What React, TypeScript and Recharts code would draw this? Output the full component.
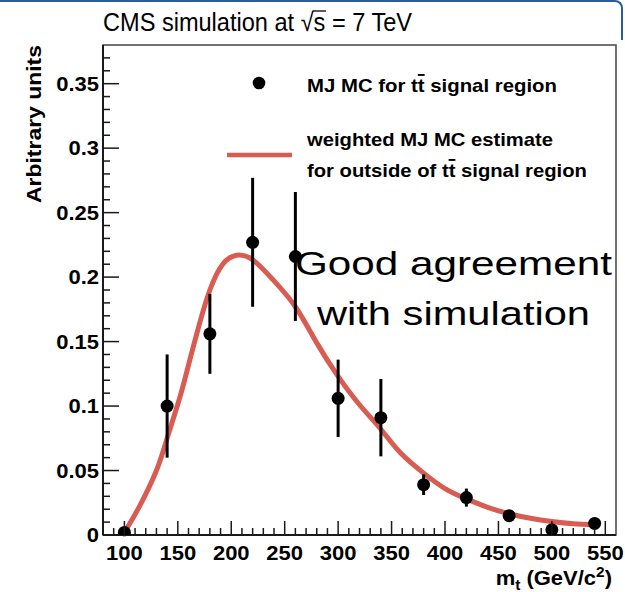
import React from 'react';
import {
  ComposedChart,
  Line,
  Scatter,
  ErrorBar,
  XAxis,
  YAxis,
  ReferenceArea,
  Legend,
  Customized,
} from 'recharts';

// MJ MC in the ttbar signal region, 40 GeV bins
const massBins = [100, 140, 180, 220, 260, 300, 340, 380, 420, 460, 500, 540];
const signalValues = [0.002, 0.1, 0.156, 0.227, 0.216, 0.106, 0.091, 0.039, 0.029, 0.015, 0.004, 0.009];
const signalErrors = [0.003, 0.04, 0.031, 0.05, 0.05, 0.03, 0.03, 0.008, 0.007, 0.004, 0.003, 0.003];

// weighted MJ MC estimate from outside the signal region
const estimateMass = [100, 114, 130, 140, 152, 161, 170, 180, 192, 205, 220, 239, 260, 280, 300, 320, 340, 358, 380, 400, 420, 440, 460, 480, 500, 520, 540];
const estimateValues = [0.002, 0.022, 0.05, 0.075, 0.107, 0.135, 0.163, 0.19, 0.21, 0.217, 0.2135, 0.198, 0.177, 0.149, 0.123, 0.101, 0.082, 0.064, 0.048, 0.036, 0.028, 0.0215, 0.0165, 0.013, 0.0105, 0.0087, 0.0078];

const xMajorTicks = [100, 150, 200, 250, 300, 350, 400, 450, 500, 550];
const yMajorTicks = [0, 0.05, 0.1, 0.15, 0.2, 0.25, 0.3, 0.35];

// minor ticks: every 10 GeV and every 0.01
const xTicks = Array.from({ length: 47 }, (_, i) => 90 + i * 10);
const yTicks = Array.from({ length: 38 }, (_, i) => i / 100);

const signalData = massBins.map((m, i) => ({ m, v: signalValues[i], err: signalErrors[i] }));
const estimateData = estimateMass.map((m, i) => ({ m, v: estimateValues[i] }));

const FONT = '"Liberation Sans", Arial, Helvetica, sans-serif';
const RED = '#d85c52';
const AXIS = '#1a1a1a';

const isMajor = (v: number, list: number[]) => list.some((t) => Math.abs(t - v) < 1e-9);

const XTick = (props: any) => {
  const { x, y, payload } = props;
  const major = isMajor(payload.value, xMajorTicks);
  return (
    <g>
      <line x1={x} x2={x} y1={y} y2={y - (major ? 14 : 7)} stroke={AXIS} strokeWidth={1.5} />
      {major && (
        <text
          transform={`translate(${x},${y + 25}) scale(1.1,1)`}
          textAnchor="middle"
          fontFamily={FONT}
          fontWeight="bold"
          fontSize={20}
          fill="#000"
        >
          {payload.value}
        </text>
      )}
    </g>
  );
};

const YTick = (props: any) => {
  const { x, y, payload } = props;
  const major = isMajor(payload.value, yMajorTicks);
  const ax = x + 4; // axis line sits tickMargin to the right
  return (
    <g>
      <line x1={ax} x2={ax + (major ? 16 : 7)} y1={y} y2={y} stroke={AXIS} strokeWidth={1.5} />
      {major && (
        <text
          transform={`translate(${x},${y + 7}) scale(1.1,1)`}
          textAnchor="end"
          fontFamily={FONT}
          fontWeight="bold"
          fontSize={20}
          fill="#000"
        >
          {String(Number(payload.value.toFixed(2)))}
        </text>
      )}
    </g>
  );
};

const Dot = (props: any) => <circle cx={props.cx} cy={props.cy} r={6.5} fill="#000" />;

const bar = { textDecoration: 'overline' } as React.CSSProperties;

const LegendBox = () => (
  <svg width={625} height={592} style={{ position: 'absolute', left: 0, top: 0 }}>
    <g fontFamily={FONT} fontWeight="bold" fontSize={19} fill="#000">
      <circle cx={259} cy={83} r={6.3} fill="#000" />
      <text x={307} y={92} textLength={250} lengthAdjust="spacingAndGlyphs">
        MJ MC for t<tspan style={bar}>t</tspan> signal region
      </text>
      <line x1={227} x2={292} y1={155} y2={155} stroke={RED} strokeWidth={4.5} />
      <text x={307} y={146} textLength={246} lengthAdjust="spacingAndGlyphs">
        weighted MJ MC estimate
      </text>
      <text x={307} y={177} textLength={280} lengthAdjust="spacingAndGlyphs">
        for outside of t<tspan style={bar}>t</tspan> signal region
      </text>
    </g>
  </svg>
);

const Annotations = () => (
  <g fontFamily={FONT}>
    <text x={103} y={31} fontSize={26} fill="#000" textLength={309} lengthAdjust="spacingAndGlyphs">
      CMS simulation at  √s = 7 TeV
    </text>
    {/* bar of the square root over the s */}
    <line x1={313} x2={326} y1={11} y2={11} stroke="#000" strokeWidth={1.3} />
    <text
      transform="translate(41,45) rotate(-90)"
      textAnchor="end"
      fontWeight="bold"
      fontSize={20}
      fill="#000"
      textLength={158}
      lengthAdjust="spacingAndGlyphs"
    >
      Arbitrary units
    </text>
    <text transform="translate(612,585) scale(1.1,1)" textAnchor="end" fontWeight="bold" fontSize={20} fill="#000">
      m<tspan fontSize={14} dy={5}>t</tspan>
      <tspan dy={-5}> (GeV/c</tspan>
      <tspan fontSize={14} dy={-8}>2</tspan>
      <tspan dy={8}>)</tspan>
    </text>
    <text x={295} y={275} fontSize={34} fill="#000" textLength={317} lengthAdjust="spacingAndGlyphs">
      Good agreement
    </text>
    <text x={317} y={325} fontSize={34} fill="#000" textLength={273} lengthAdjust="spacingAndGlyphs">
      with simulation
    </text>
  </g>
);

export default function App() {
  return (
    <div style={{ position: 'absolute', left: 0, top: 0, width: 625, height: 592, background: '#fff' }}>
      <ComposedChart width={625} height={592} margin={{ top: 45, right: 9, bottom: 0, left: 0 }}>
        <ReferenceArea x1={80} x2={560} y1={0} y2={0.38} fill="none" stroke="#444" strokeWidth={1.5} ifOverflow="visible" />
        <XAxis
          type="number"
          dataKey="m"
          domain={[80, 560]}
          ticks={xTicks}
          interval={0}
          height={57}
          tickSize={0}
          tickMargin={0}
          tick={<XTick />}
          axisLine={{ stroke: AXIS, strokeWidth: 2 }}
          allowDataOverflow
        />
        <YAxis
          type="number"
          dataKey="v"
          domain={[0, 0.38]}
          ticks={yTicks}
          interval={0}
          width={103}
          tickSize={0}
          tickMargin={4}
          tick={<YTick />}
          axisLine={{ stroke: AXIS, strokeWidth: 2 }}
          allowDataOverflow
        />
        <Line
          data={estimateData}
          dataKey="v"
          type="natural"
          stroke={RED}
          strokeWidth={5}
          dot={false}
          isAnimationActive={false}
        />
        <Scatter data={signalData} dataKey="v" shape={Dot} isAnimationActive={false}>
          <ErrorBar dataKey="err" direction="y" width={0} strokeWidth={3} stroke="#000" />
        </Scatter>
        <Legend
          layout="horizontal"
          verticalAlign="middle"
          align="center"
          content={<LegendBox />}
          wrapperStyle={{ left: 0, top: 0, width: 625, height: 592, pointerEvents: 'none' }}
        />
        <Customized component={<Annotations />} />
      </ComposedChart>
      <div
        style={{
          position: 'absolute',
          left: 0,
          top: 0,
          width: 623,
          height: 40,
          borderTop: '2px solid #2b5d99',
          borderRight: '2px solid #2b5d99',
          borderTopRightRadius: 8,
          boxSizing: 'border-box',
          pointerEvents: 'none',
        }}
      />
    </div>
  );
}
